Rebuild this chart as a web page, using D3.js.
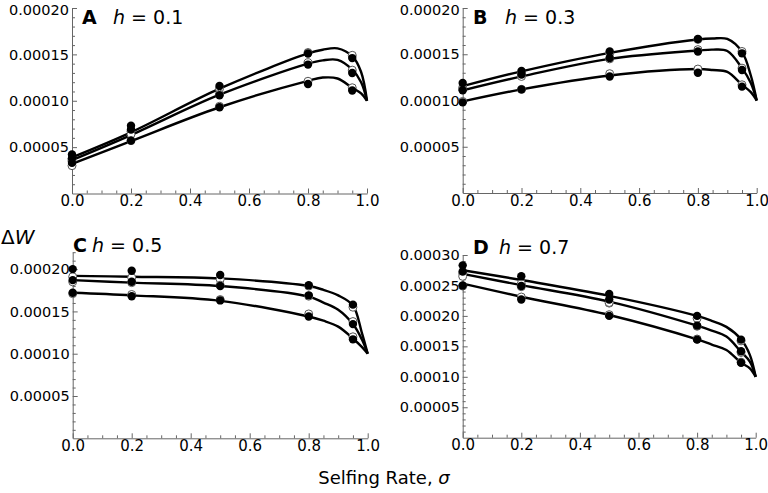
<!DOCTYPE html>
<html><head><meta charset="utf-8">
<script src="https://cdn.jsdelivr.net/npm/d3@7"></script>
<style>body{margin:0;background:#fff}svg{display:block}text{font-family:"DejaVu Sans",sans-serif}</style>
</head><body><svg id="c" width="768" height="493"></svg>
<script>
// ---- data ----
const sigmaCurve = [0, 0.2, 0.5, 0.8, 0.85, 0.9, 0.95, 0.98, 1.0];
const sigmaDots = [0, 0.2, 0.5, 0.8, 0.95];
const xTicks = [0, 0.2, 0.4, 0.6, 0.8, 1.0];

const curveA_top = [3.9e-5, 6.6e-5, 1.13e-4, 1.51e-4, 1.55e-4, 1.565e-4, 1.48e-4, 1.31e-4, 1.0e-4];
const curveA_mid = [3.6e-5, 6.3e-5, 1.065e-4, 1.40e-4, 1.435e-4, 1.44e-4, 1.335e-4, 1.2e-4, 1.0e-4];
const curveA_low = [3.2e-5, 5.65e-5, 0.93e-4, 1.215e-4, 1.25e-4, 1.24e-4, 1.14e-4, 1.08e-4, 1.0e-4];
const filledA_top = [4.2e-5, 7.3e-5, 1.16e-4, 1.51e-4, 1.46e-4];
const filledA_mid = [3.8e-5, 6.9e-5, 1.06e-4, 1.39e-4, 1.30e-4];
const filledA_low = [3.3e-5, 5.7e-5, 0.93e-4, 1.18e-4, 1.11e-4];
const openA_top = [3.7e-5, 6.7e-5, 1.13e-4, 1.52e-4, 1.49e-4];
const openA_mid = [3.5e-5, 6.4e-5, 1.07e-4, 1.41e-4, 1.33e-4];
const openA_low = [3.0e-5, 5.7e-5, 0.94e-4, 1.21e-4, 1.14e-4];

const curveB_top = [1.155e-4, 1.315e-4, 1.515e-4, 1.66e-4, 1.67e-4, 1.665e-4, 1.525e-4, 1.27e-4, 1.0e-4];
const curveB_mid = [1.11e-4, 1.26e-4, 1.45e-4, 1.54e-4, 1.55e-4, 1.535e-4, 1.35e-4, 1.19e-4, 1.0e-4];
const curveB_low = [0.99e-4, 1.12e-4, 1.27e-4, 1.34e-4, 1.33e-4, 1.31e-4, 1.17e-4, 1.09e-4, 1.0e-4];
const filledB_top = [1.19e-4, 1.32e-4, 1.53e-4, 1.665e-4, 1.51e-4];
const filledB_mid = [1.11e-4, 1.28e-4, 1.46e-4, 1.53e-4, 1.33e-4];
const filledB_low = [0.98e-4, 1.12e-4, 1.26e-4, 1.30e-4, 1.15e-4];
const openB_top = [1.14e-4, 1.30e-4, 1.51e-4, 1.66e-4, 1.53e-4];
const openB_mid = [1.12e-4, 1.26e-4, 1.45e-4, 1.55e-4, 1.35e-4];
const openB_low = [0.99e-4, 1.12e-4, 1.29e-4, 1.34e-4, 1.17e-4];

const curveC_top = [1.92e-4, 1.91e-4, 1.89e-4, 1.80e-4, 1.755e-4, 1.69e-4, 1.57e-4, 1.25e-4, 1.0e-4];
const curveC_mid = [1.87e-4, 1.84e-4, 1.80e-4, 1.675e-4, 1.605e-4, 1.52e-4, 1.35e-4, 1.17e-4, 1.0e-4];
const curveC_low = [1.72e-4, 1.69e-4, 1.625e-4, 1.44e-4, 1.39e-4, 1.32e-4, 1.18e-4, 1.08e-4, 1.0e-4];
const filledC_top = [2.0e-4, 1.98e-4, 1.93e-4, 1.81e-4, 1.58e-4];
const filledC_mid = [1.87e-4, 1.85e-4, 1.80e-4, 1.69e-4, 1.35e-4];
const filledC_low = [1.72e-4, 1.68e-4, 1.63e-4, 1.44e-4, 1.17e-4];
const openC_top = [1.91e-4, 1.90e-4, 1.88e-4, 1.80e-4, 1.55e-4];
const openC_mid = [1.85e-4, 1.84e-4, 1.81e-4, 1.68e-4, 1.38e-4];
const openC_low = [1.71e-4, 1.70e-4, 1.64e-4, 1.47e-4, 1.20e-4];

const curveD_top = [2.75e-4, 2.59e-4, 2.33e-4, 2.0e-4, 1.92e-4, 1.82e-4, 1.615e-4, 1.36e-4, 1.0e-4];
const curveD_mid = [2.69e-4, 2.505e-4, 2.235e-4, 1.84e-4, 1.76e-4, 1.66e-4, 1.41e-4, 1.25e-4, 1.0e-4];
const curveD_low = [2.53e-4, 2.315e-4, 2.015e-4, 1.615e-4, 1.53e-4, 1.44e-4, 1.23e-4, 1.14e-4, 1.0e-4];
const filledD_top = [2.83e-4, 2.65e-4, 2.36e-4, 2.0e-4, 1.61e-4];
const filledD_mid = [2.73e-4, 2.49e-4, 2.27e-4, 1.84e-4, 1.42e-4];
const filledD_low = [2.50e-4, 2.27e-4, 2.0e-4, 1.61e-4, 1.23e-4];
const openD_top = [2.70e-4, 2.53e-4, 2.21e-4, 1.96e-4, 1.59e-4];
const openD_mid = [2.65e-4, 2.48e-4, 2.22e-4, 1.83e-4, 1.40e-4];
const openD_low = [2.49e-4, 2.31e-4, 2.02e-4, 1.62e-4, 1.24e-4];

const yTicksAB = [0.00005, 0.0001, 0.00015, 0.0002];
const yTicksC = [0.00005, 0.0001, 0.00015, 0.0002];
const yTicksD = [0.00005, 0.0001, 0.00015, 0.0002, 0.00025, 0.0003];
const panelLetters = ["A", "B", "C", "D"];
const panelH = ["0.1", "0.3", "0.5", "0.7"];

// ---- layout ----
const panels = [
  {x0:72, x1:367, y0:193.5, y1:8, ymax:0.0002, yt:yTicksAB, curves:[curveA_top,curveA_mid,curveA_low], filled:[filledA_top,filledA_mid,filledA_low], open:[openA_top,openA_mid,openA_low], lx:82, ly:24, hx:113},
  {x0:462.7, x1:756.7, y0:193, y1:8, ymax:0.0002, yt:yTicksAB, curves:[curveB_top,curveB_mid,curveB_low], filled:[filledB_top,filledB_mid,filledB_low], open:[openB_top,openB_mid,openB_low], lx:473, ly:24, hx:505},
  {x0:72.7, x1:367.7, y0:438.3, y1:252.2, ymax:0.00022, yt:yTicksC, curves:[curveC_top,curveC_mid,curveC_low], filled:[filledC_top,filledC_mid,filledC_low], open:[openC_top,openC_mid,openC_low], lx:73, ly:252, hx:92},
  {x0:462.7, x1:755.7, y0:437.7, y1:255, ymax:0.0003, yt:yTicksD, curves:[curveD_top,curveD_mid,curveD_low], filled:[filledD_top,filledD_mid,filledD_low], open:[openD_top,openD_mid,openD_low], lx:473, ly:254, hx:499}
];

const svg = d3.select("#c");
const axisColor = "#666";

panels.forEach((p, i) => {
  const x = d3.scaleLinear().domain([0, 1]).range([p.x0, p.x1]);
  const y = d3.scaleLinear().domain([0, p.ymax]).range([p.y0, p.y1]);
  const g = svg.append("g");

  // minor ticks
  const yMinor = d3.range(0, p.ymax + 1e-12, 0.00001).filter(v => Math.abs((v / 0.00005) - Math.round(v / 0.00005)) > 1e-6);
  const xMinor = d3.range(0, 1.0001, 0.05).filter(v => Math.abs(v / 0.2 - Math.round(v / 0.2)) > 1e-6);
  g.append("g").attr("transform", `translate(${p.x0},0)`)
    .call(d3.axisLeft(y).tickValues(yMinor).tickSize(-3).tickSizeOuter(0).tickFormat(""))
    .call(s => s.select(".domain").remove())
    .call(s => s.selectAll("line").attr("stroke", axisColor));
  g.append("g").attr("transform", `translate(0,${p.y0})`)
    .call(d3.axisBottom(x).tickValues(xMinor).tickSize(-3).tickSizeOuter(0).tickFormat(""))
    .call(s => s.select(".domain").remove())
    .call(s => s.selectAll("line").attr("stroke", axisColor));

  // major axes
  const ya = g.append("g").attr("transform", `translate(${p.x0},0)`)
    .call(d3.axisLeft(y).tickValues(p.yt).tickSize(-5).tickSizeOuter(0).tickPadding(3).tickFormat(d3.format(".5f")));
  ya.select(".domain").attr("stroke", axisColor);
  ya.selectAll("line").attr("stroke", axisColor);
  ya.selectAll("text").attr("font-size", 14.5).attr("fill", "#000").attr("font-family", "DejaVu Sans")
    .attr("dy", d => (y(d) < 12 ? "0.45em" : "0.32em"));
  const xa = g.append("g").attr("transform", `translate(0,${p.y0})`)
    .call(d3.axisBottom(x).tickValues(xTicks).tickSize(-5).tickSizeOuter(0).tickPadding(2).tickFormat(d3.format(".1f")));
  xa.select(".domain").attr("stroke", axisColor);
  xa.selectAll("line").attr("stroke", axisColor);
  xa.selectAll("text").attr("font-size", 15).attr("fill", "#000").attr("font-family", "DejaVu Sans");

  // curves
  const line = d3.line().x((d, j) => x(sigmaCurve[j])).y(d => y(d)).curve(d3.curveCatmullRom.alpha(0.5));
  p.curves.forEach(c => {
    g.append("path").attr("d", line(c)).attr("fill", "none").attr("stroke", "#000").attr("stroke-width", 2.4);
  });
  // open dots
  p.open.forEach(arr => {
    g.selectAll(null).data(arr).enter().append("circle")
      .attr("cx", (d, j) => x(sigmaDots[j])).attr("cy", d => y(d)).attr("r", 4)
      .attr("fill", "#fff").attr("stroke", "#555").attr("stroke-width", 1);
  });
  // filled dots
  p.filled.forEach(arr => {
    g.selectAll(null).data(arr).enter().append("circle")
      .attr("cx", (d, j) => x(sigmaDots[j])).attr("cy", d => y(d)).attr("r", 4.2)
      .attr("fill", "#000");
  });

  // panel label
  g.append("text").attr("x", p.lx).attr("y", p.ly).attr("font-size", 19).attr("font-weight", "bold").text(panelLetters[i]);
  const t = g.append("text").attr("x", p.hx).attr("y", p.ly).attr("font-size", 19);
  t.append("tspan").attr("font-style", "italic").text("h");
  t.append("tspan").text(" = " + panelH[i]);
});

// global axis labels
const dw = svg.append("text").attr("x", 1).attr("y", 244).attr("font-size", 20);
dw.append("tspan").text("Δ");
dw.append("tspan").attr("font-style", "italic").text("W");
const xl = svg.append("text").attr("x", 384).attr("y", 484).attr("text-anchor", "middle").attr("font-size", 18);
xl.append("tspan").text("Selfing Rate, ");
xl.append("tspan").attr("font-style", "italic").text("σ");
</script></body></html>
